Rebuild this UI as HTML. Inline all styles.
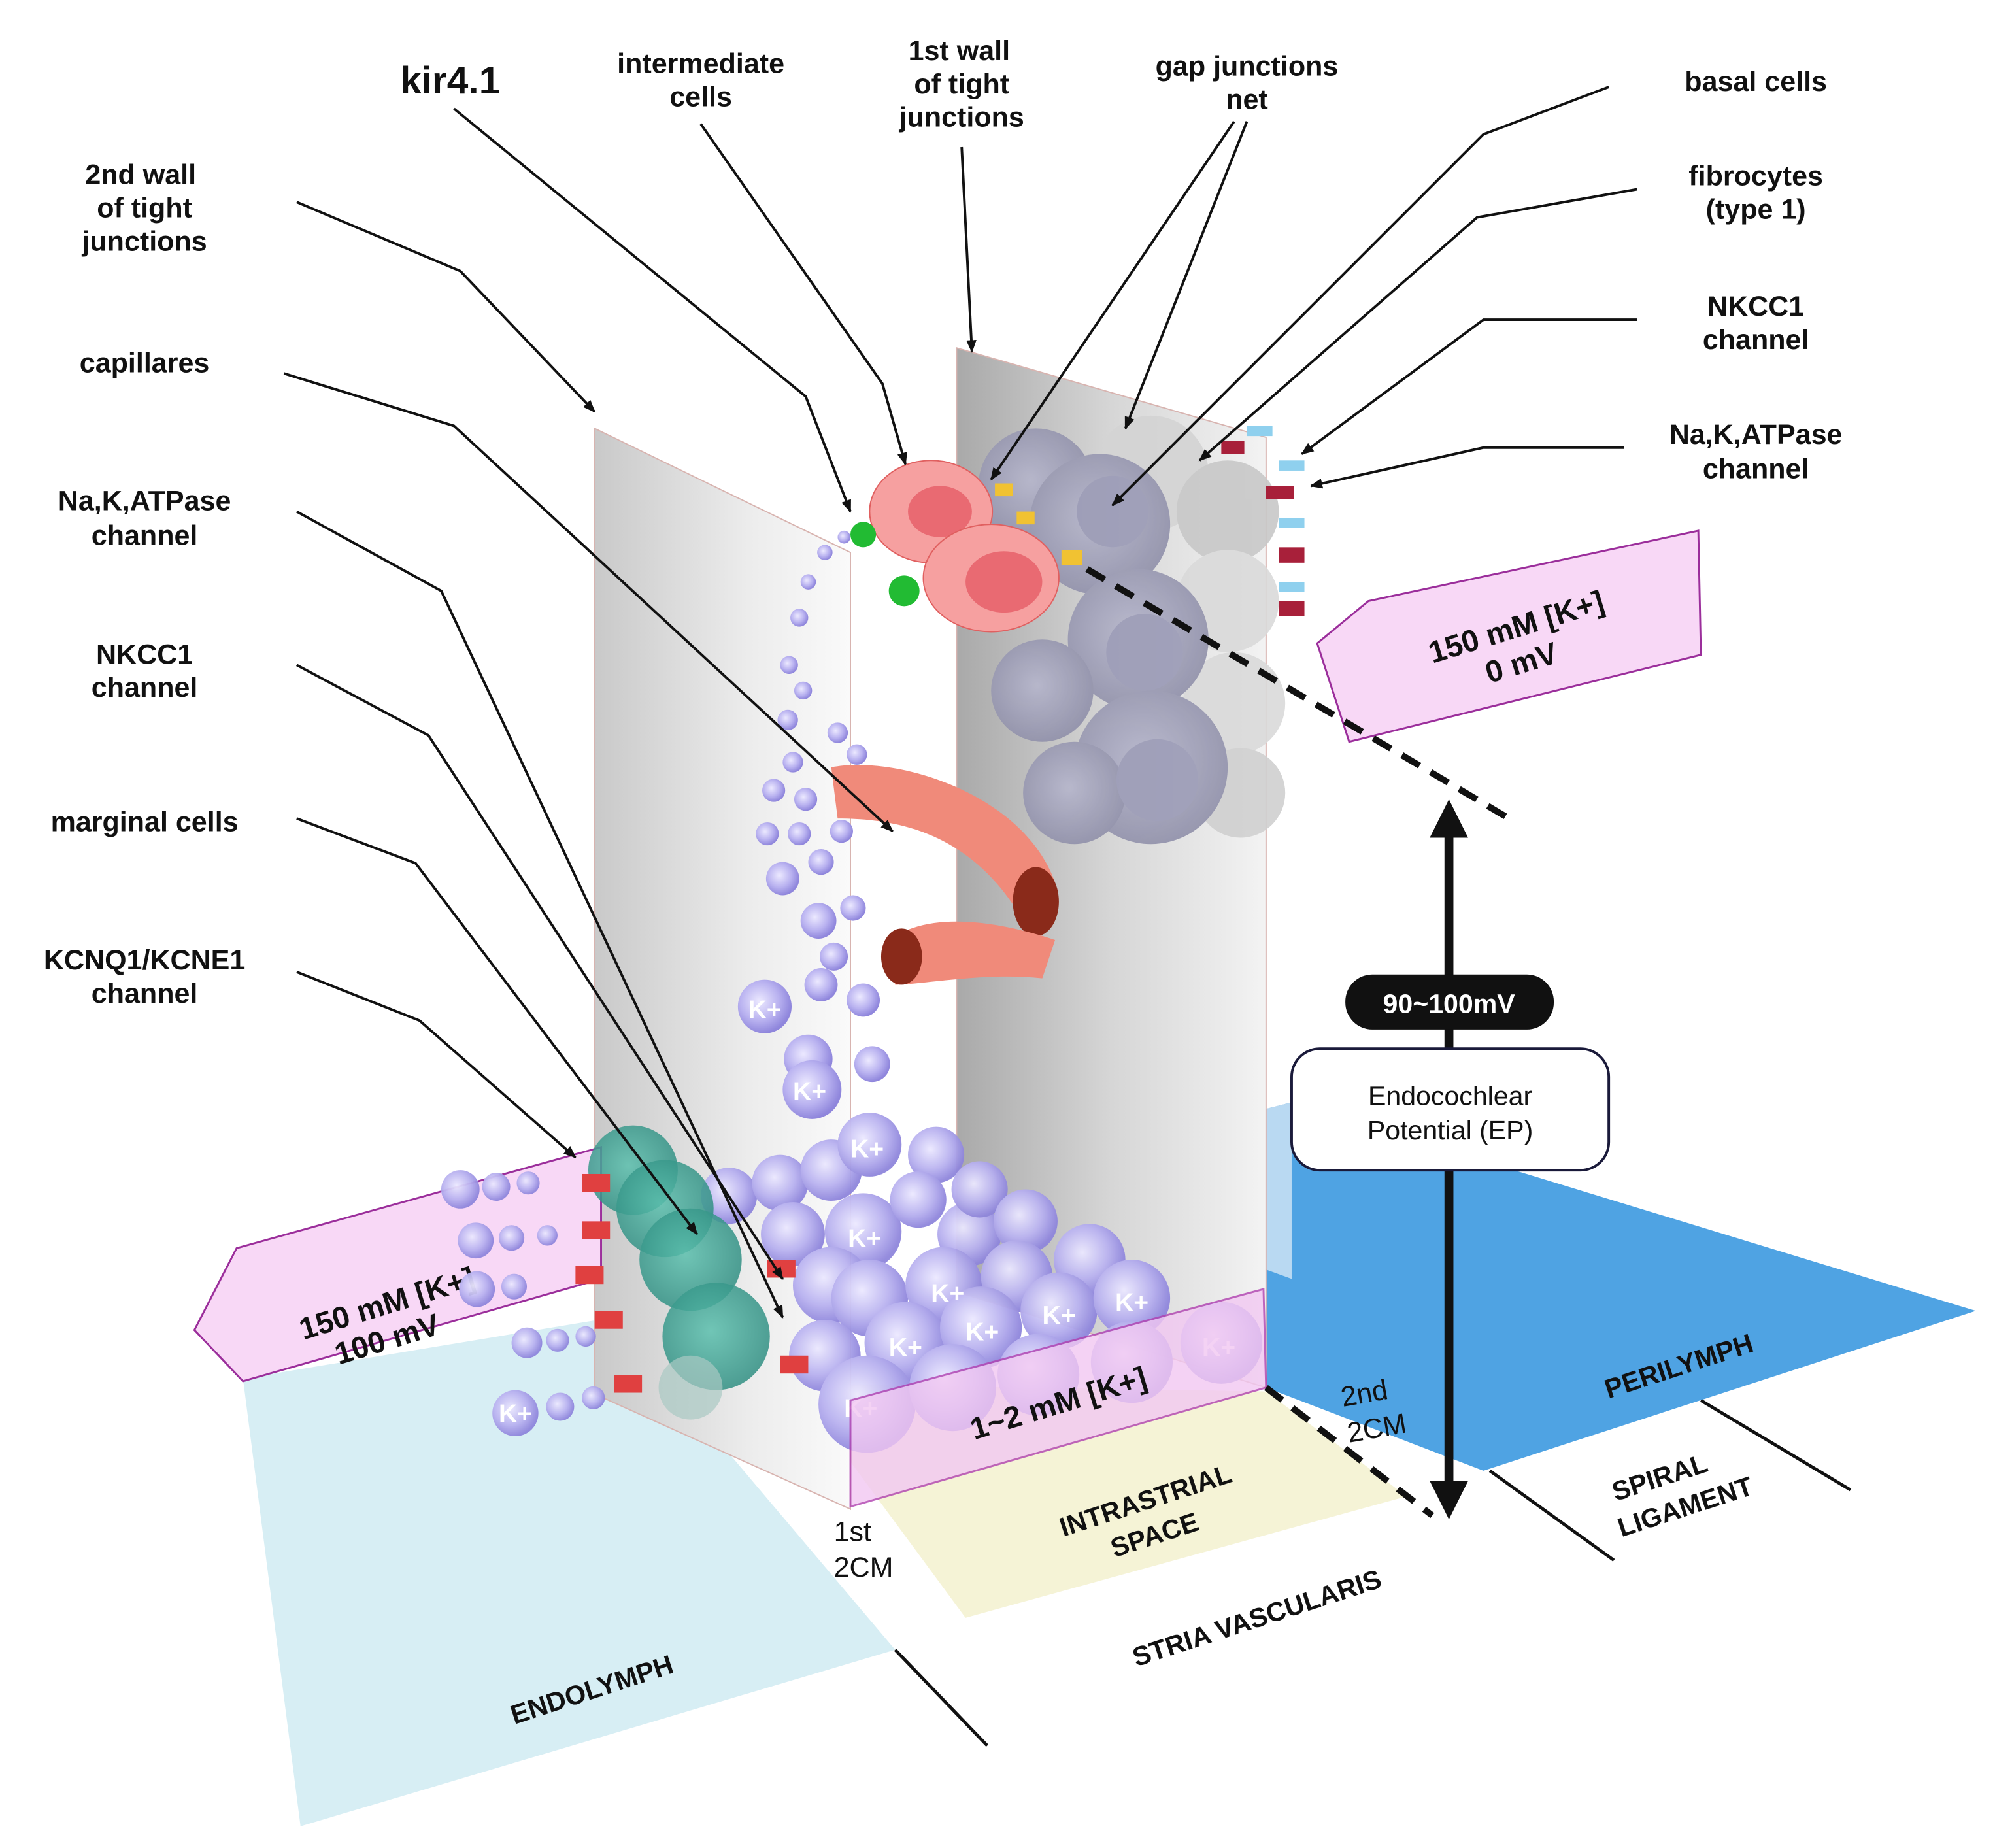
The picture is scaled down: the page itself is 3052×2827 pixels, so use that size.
<!DOCTYPE html>
<html><head><meta charset="utf-8"><style>
html,body{margin:0;padding:0;background:#fff;}
svg{display:block;}
text{font-family:"Liberation Sans",sans-serif;font-weight:bold;fill:#111;}
</style></head><body>
<svg width="3052" height="2827" viewBox="0 0 1560 1445" xmlns="http://www.w3.org/2000/svg">
<defs>
<linearGradient id="w2" x1="0" x2="1" y1="0" y2="0"><stop offset="0" stop-color="#c9c9c9"/><stop offset="0.6" stop-color="#ececec"/><stop offset="1" stop-color="#fafafa"/></linearGradient>
<linearGradient id="w1" x1="0" x2="1" y1="0" y2="0"><stop offset="0" stop-color="#a9a9a9"/><stop offset="0.5" stop-color="#d6d6d6"/><stop offset="1" stop-color="#f3f3f3"/></linearGradient>
<radialGradient id="kb" cx="0.4" cy="0.4" r="0.6"><stop offset="0" stop-color="#ece9ff"/><stop offset="0.6" stop-color="#b9b2f0"/><stop offset="1" stop-color="#8f86dc"/></radialGradient>
<radialGradient id="gc" cx="0.45" cy="0.45" r="0.6"><stop offset="0" stop-color="#b6b6cc"/><stop offset="1" stop-color="#8e8ea8"/></radialGradient>
<radialGradient id="tc" cx="0.45" cy="0.45" r="0.6"><stop offset="0" stop-color="#5cc0ae"/><stop offset="1" stop-color="#2e8c80"/></radialGradient>
<marker id="ah" markerWidth="10" markerHeight="8" refX="9" refY="4" orient="auto" markerUnits="userSpaceOnUse"><path d="M0,0 L10,4 L0,8 Z" fill="#111"/></marker>
</defs>

<polygon points="190,1078 480,1030 700,1290 235,1428" fill="#d7eef4"/>
<polygon points="620,1082 990,1088 1100,1170 755,1265" fill="#f5f3d6"/>
<polygon points="830,908 1010,862 1545,1025 1160,1150 990,1085" fill="#4fa3e3"/>
<polygon points="830,908 1010,862 1010,1000 900,960" fill="#b9d9f2"/>

<polygon points="465,335 665,432 665,1180 465,1090" fill="url(#w2)" stroke="#d8b4b0" stroke-width="1"/>
<polygon points="748,272 990,342 990,1085 748,1010" fill="url(#w1)" stroke="#d8b4b0" stroke-width="1"/>

<g opacity="0.9">
<circle cx="900" cy="370" r="45" fill="#d4d4d4"/><circle cx="960" cy="400" r="40" fill="#c8c8c8"/>
<circle cx="960" cy="470" r="40" fill="#dadada"/><circle cx="965" cy="550" r="40" fill="#dadada"/>
<circle cx="970" cy="620" r="35" fill="#d0d0d0"/>
<circle cx="810" cy="380" r="45" fill="url(#gc)"/><circle cx="860" cy="410" r="55" fill="url(#gc)"/>
<circle cx="890" cy="500" r="55" fill="url(#gc)"/><circle cx="815" cy="540" r="40" fill="url(#gc)"/>
<circle cx="900" cy="600" r="60" fill="url(#gc)"/><circle cx="840" cy="620" r="40" fill="url(#gc)"/>
<circle cx="870" cy="400" r="28" fill="#9a9ab6"/><circle cx="895" cy="510" r="30" fill="#9a9ab6"/><circle cx="905" cy="610" r="32" fill="#9a9ab6"/>
</g>
<g><rect x="955" y="345" width="18" height="10" fill="#a8203a"/><rect x="990" y="380" width="22" height="10" fill="#a8203a"/><rect x="1000" y="428" width="20" height="12" fill="#a8203a"/><rect x="1000" y="470" width="20" height="12" fill="#a8203a"/>
<rect x="975" y="333" width="20" height="8" fill="#8fd0ee"/><rect x="1000" y="360" width="20" height="8" fill="#8fd0ee"/><rect x="1000" y="405" width="20" height="8" fill="#8fd0ee"/><rect x="1000" y="455" width="20" height="8" fill="#8fd0ee"/></g>
<g fill="#f1c232"><rect x="778" y="378" width="14" height="10"/><rect x="795" y="400" width="14" height="10"/><rect x="830" y="430" width="16" height="12"/></g>

<ellipse cx="728" cy="400" rx="48" ry="40" fill="#f6a0a0" stroke="#e06060"/>
<ellipse cx="735" cy="400" rx="25" ry="20" fill="#e96a72"/>
<ellipse cx="775" cy="452" rx="53" ry="42" fill="#f6a0a0" stroke="#e06060"/>
<ellipse cx="785" cy="455" rx="30" ry="24" fill="#e96a72"/>
<circle cx="675" cy="418" r="10" fill="#22bb33"/><circle cx="707" cy="462" r="12" fill="#22bb33"/>

<path d="M650,600 C700,590 800,620 825,690 L800,720 C760,650 700,640 655,640 Z" fill="#f08a7a"/>
<ellipse cx="810" cy="705" rx="18" ry="27" fill="#8a2a1a"/>
<path d="M690,740 C720,710 780,720 825,735 L815,765 C770,760 720,770 700,770 Z" fill="#f08a7a"/>
<ellipse cx="705" cy="748" rx="16" ry="22" fill="#8a2a1a"/>

<!-- left pink box (behind cells) -->
<polygon points="152,1040 185,976 470,897 470,1000 190,1080" fill="#f8d8f6" stroke="#9b2e9b" stroke-width="1.5"/>
<text transform="translate(305,1027) rotate(-17)" font-size="24" text-anchor="middle">150 mM [K+]</text>
<text transform="translate(305,1055) rotate(-17)" font-size="24" text-anchor="middle">100 mV</text>

<g fill="url(#kb)">
<circle cx="660" cy="420" r="5"/><circle cx="645" cy="432" r="6"/><circle cx="632" cy="455" r="6"/><circle cx="625" cy="483" r="7"/><circle cx="617" cy="520" r="7"/><circle cx="628" cy="540" r="7"/><circle cx="616" cy="563" r="8"/><circle cx="655" cy="573" r="8"/><circle cx="670" cy="590" r="8"/><circle cx="620" cy="596" r="8"/><circle cx="605" cy="618" r="9"/><circle cx="630" cy="625" r="9"/><circle cx="600" cy="652" r="9"/><circle cx="625" cy="652" r="9"/><circle cx="658" cy="650" r="9"/><circle cx="642" cy="674" r="10"/><circle cx="612" cy="687" r="13"/><circle cx="667" cy="710" r="10"/><circle cx="640" cy="720" r="14"/><circle cx="652" cy="748" r="11"/><circle cx="642" cy="770" r="13"/><circle cx="675" cy="782" r="13"/><circle cx="598" cy="787" r="21"/><circle cx="632" cy="828" r="19"/><circle cx="682" cy="832" r="14"/><circle cx="635" cy="852" r="23"/>
</g>
<g fill="url(#kb)" opacity="0.95">
<circle cx="570" cy="935" r="22"/><circle cx="610" cy="925" r="22"/><circle cx="650" cy="915" r="24"/><circle cx="680" cy="895" r="25"/><circle cx="732" cy="903" r="22"/>
<circle cx="620" cy="965" r="25"/><circle cx="675" cy="963" r="30"/><circle cx="718" cy="938" r="22"/><circle cx="758" cy="965" r="25"/><circle cx="766" cy="930" r="22"/><circle cx="802" cy="955" r="25"/>
<circle cx="650" cy="1005" r="30"/><circle cx="680" cy="1015" r="30"/><circle cx="738" cy="1005" r="30"/><circle cx="795" cy="998" r="28"/><circle cx="852" cy="985" r="28"/>
<circle cx="645" cy="1060" r="28"/><circle cx="708" cy="1050" r="32"/><circle cx="767" cy="1038" r="32"/><circle cx="828" cy="1025" r="30"/><circle cx="885" cy="1015" r="30"/>
<circle cx="678" cy="1098" r="38"/><circle cx="745" cy="1085" r="34"/><circle cx="812" cy="1075" r="32"/><circle cx="885" cy="1065" r="32"/><circle cx="955" cy="1050" r="32"/>
<circle cx="360" cy="930" r="15"/><circle cx="388" cy="928" r="11"/><circle cx="413" cy="925" r="9"/><circle cx="372" cy="970" r="14"/><circle cx="400" cy="968" r="10"/><circle cx="428" cy="966" r="8"/><circle cx="373" cy="1008" r="14"/><circle cx="402" cy="1006" r="10"/><circle cx="412" cy="1050" r="12"/><circle cx="436" cy="1048" r="9"/><circle cx="458" cy="1045" r="8"/><circle cx="403" cy="1105" r="18"/><circle cx="438" cy="1100" r="11"/><circle cx="464" cy="1093" r="9"/>
</g>
<g font-size="20">
<text x="665" y="905" style="fill:#fff">K+</text><text x="663" y="975" style="fill:#fff">K+</text><text x="728" y="1018" style="fill:#fff">K+</text><text x="695" y="1060" style="fill:#fff">K+</text><text x="755" y="1048" style="fill:#fff">K+</text><text x="815" y="1035" style="fill:#fff">K+</text><text x="872" y="1025" style="fill:#fff">K+</text><text x="660" y="1108" style="fill:#fff">K+</text><text x="940" y="1060" style="fill:#fff">K+</text><text x="585" y="796" style="fill:#fff">K+</text><text x="620" y="860" style="fill:#fff">K+</text><text x="390" y="1112" style="fill:#fff">K+</text>
</g>

<g>
<circle cx="495" cy="915" r="35" fill="url(#tc)" opacity="0.85"/>
<circle cx="520" cy="945" r="38" fill="url(#tc)" opacity="0.85"/>
<circle cx="540" cy="985" r="40" fill="url(#tc)" opacity="0.85"/>
<circle cx="560" cy="1045" r="42" fill="url(#tc)" opacity="0.85"/>
<circle cx="540" cy="1085" r="25" fill="#a9c9c3" opacity="0.7"/>
<g fill="#e04040"><rect x="455" y="918" width="22" height="14"/><rect x="455" y="955" width="22" height="14"/><rect x="450" y="990" width="22" height="14"/><rect x="465" y="1025" width="22" height="14"/><rect x="480" y="1075" width="22" height="14"/><rect x="600" y="985" width="22" height="14"/><rect x="610" y="1060" width="22" height="14"/></g>
</g>

<polygon points="1030,503 1070,470 1328,415 1330,512 1055,580" fill="#f8d8f6" stroke="#9b2e9b" stroke-width="1.5"/>
<text transform="translate(1188,498) rotate(-17)" font-size="24" text-anchor="middle">150 mM [K+]</text>
<text transform="translate(1192,526) rotate(-17)" font-size="24" text-anchor="middle">0 mV</text>
<polygon points="665,1095 988,1008 990,1085 665,1178" fill="#f2c8f2" stroke="#b040b0" stroke-width="1.5" opacity="0.8"/>
<text transform="translate(830,1105) rotate(-17)" font-size="24" text-anchor="middle">1~2 mM [K+]</text>

<line x1="850" y1="445" x2="1180" y2="640" stroke="#111" stroke-width="5" stroke-dasharray="16,10"/>
<line x1="990" y1="1085" x2="1120" y2="1185" stroke="#111" stroke-width="5" stroke-dasharray="16,10"/>
<line x1="1133" y1="650" x2="1133" y2="1165" stroke="#111" stroke-width="7"/>
<polygon points="1133,625 1118,655 1148,655" fill="#111"/>
<polygon points="1133,1188 1118,1158 1148,1158" fill="#111"/>
<rect x="1052" y="762" width="163" height="43" rx="21" fill="#111"/>
<text x="1133" y="792" font-size="21" text-anchor="middle" style="fill:#fff">90~100mV</text>
<rect x="1010" y="820" width="248" height="95" rx="22" fill="#fff" stroke="#1a1a3a" stroke-width="2"/>
<text x="1134" y="864" font-size="21" text-anchor="middle" style="font-weight:normal">Endocochlear</text>
<text x="1134" y="891" font-size="21" text-anchor="middle" style="font-weight:normal">Potential (EP)</text>

<g stroke="#111" stroke-width="2.5"><line x1="700" y1="1290" x2="772" y2="1365"/><line x1="1165" y1="1150" x2="1262" y2="1220"/><line x1="1330" y1="1095" x2="1447" y2="1165"/></g>

<g font-size="21">
<text transform="translate(465,1328) rotate(-18)" text-anchor="middle">ENDOLYMPH</text>
<text transform="translate(985,1272) rotate(-18)" text-anchor="middle">STRIA VASCULARIS</text>
<text transform="translate(898,1180) rotate(-18)" text-anchor="middle">INTRASTRIAL</text>
<text transform="translate(905,1207) rotate(-18)" text-anchor="middle">SPACE</text>
<text transform="translate(1315,1075) rotate(-18)" text-anchor="middle">PERILYMPH</text>
<text transform="translate(1300,1162) rotate(-18)" text-anchor="middle">SPIRAL</text>
<text transform="translate(1320,1185) rotate(-18)" text-anchor="middle">LIGAMENT</text>
</g>
<g font-size="22">
<text x="652" y="1205" style="font-weight:normal">1st</text><text x="652" y="1233" style="font-weight:normal">2CM</text>
<text transform="translate(1050,1100) rotate(-10)" style="font-weight:normal">2nd</text><text transform="translate(1055,1128) rotate(-10)" style="font-weight:normal">2CM</text>
</g>

<g stroke="#111" stroke-width="2" fill="none" marker-end="url(#ah)">
<polyline points="355,85 630,310 665,400"/>
<polyline points="548,97 690,300 708,363"/>
<polyline points="752,115 760,275"/>
<polyline points="965,95 775,375"/>
<polyline points="975,95 880,335"/>
<polyline points="1258,68 1160,105 870,395"/>
<polyline points="1280,148 1155,170 938,360"/>
<polyline points="1280,250 1160,250 1018,355"/>
<polyline points="1270,350 1160,350 1025,380"/>
<polyline points="232,158 360,212 465,322"/>
<polyline points="222,292 355,333 698,650"/>
<polyline points="232,400 345,462 612,1030"/>
<polyline points="232,520 335,575 612,1000"/>
<polyline points="232,640 325,675 545,965"/>
<polyline points="232,760 328,798 450,905"/>
</g>

<g font-size="22" text-anchor="middle">
<text x="352" y="73" font-size="30">kir4.1</text>
<text x="548" y="57">intermediate</text><text x="548" y="83">cells</text>
<text x="750" y="47">1st wall</text><text x="752" y="73">of tight</text><text x="752" y="99">junctions</text>
<text x="975" y="59">gap junctions</text><text x="975" y="85">net</text>
<text x="1373" y="71">basal cells</text>
<text x="1373" y="145">fibrocytes</text><text x="1373" y="171">(type 1)</text>
<text x="1373" y="247">NKCC1</text><text x="1373" y="273">channel</text>
<text x="1373" y="347">Na,K,ATPase</text><text x="1373" y="374">channel</text>
<text x="110" y="144">2nd wall</text><text x="113" y="170">of tight</text><text x="113" y="196">junctions</text>
<text x="113" y="291">capillares</text>
<text x="113" y="399">Na,K,ATPase</text><text x="113" y="426">channel</text>
<text x="113" y="519">NKCC1</text><text x="113" y="545">channel</text>
<text x="113" y="650">marginal cells</text>
<text x="113" y="758">KCNQ1/KCNE1</text><text x="113" y="784">channel</text>
</g>
</svg>
</body></html>
